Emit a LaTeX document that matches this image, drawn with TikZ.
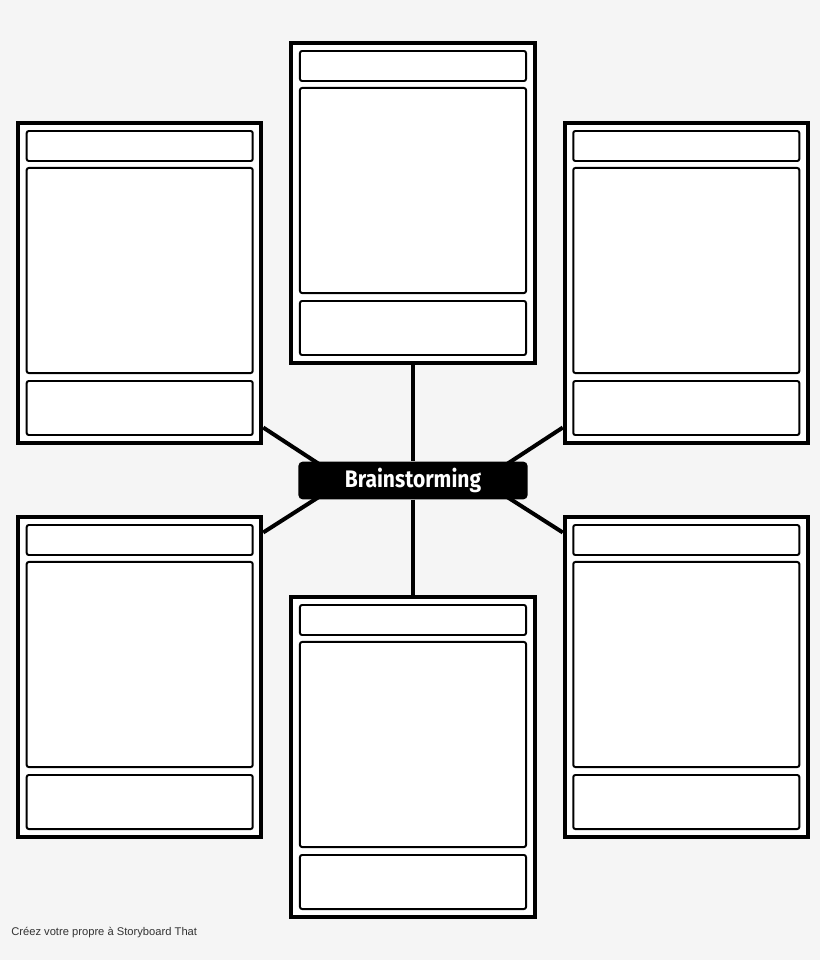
\documentclass[tikz,border=0pt]{standalone}
\usepackage{fontspec}
\usepackage{tikz}
\usetikzlibrary{positioning}
\usetikzlibrary{calc}
\newfontfamily\brainfont[FakeStretch=0.88]{Fira Sans}
\newfontfamily\creditfont{Liberation Sans}
\definecolor{bgcolor}{RGB}{245,245,245}
\definecolor{credit}{RGB}{51,51,51}

\begin{document}
\begin{tikzpicture}[x=0.025cm, y=-0.025cm,
    card/.style={draw, line width=2.85pt, fill=white, inner sep=0pt, minimum width=6.075cm, minimum height=7.975cm},
    panel/.style={draw, line width=1.4pt, fill=white, rounded corners=1.5pt, inner sep=0pt, minimum width=5.65cm},
    head/.style={panel, minimum height=0.75cm},
    body/.style={panel, minimum height=5.125cm},
    foot/.style={panel, minimum height=1.35cm},
    link/.style={line width=2.85pt}]
      \useasboundingbox (0,0) rectangle (820,960);
      \fill[bgcolor] (0,0) rectangle (820,960);
      % top row
      \node[card] (tl) at (139.7,283) {};
      \node[head] (tl1) at (139.7,146) {};
      \node[body] (tl2) at (139.7,270.5) {};
      \node[foot] (tl3) at (139.7,408) {};
      \node[card] (tc) at (413,203) {};
      \node[head] (tc1) at (413,66) {};
      \node[body] (tc2) at (413,190.5) {};
      \node[foot] (tc3) at (413,328) {};
      \node[card] (tr) at (686.3,283) {};
      \node[head] (tr1) at (686.3,146) {};
      \node[body] (tr2) at (686.3,270.5) {};
      \node[foot] (tr3) at (686.3,408) {};
      % bottom row
      \node[card] (bl) at (139.7,677) {};
      \node[head] (bl1) at (139.7,540) {};
      \node[body] (bl2) at (139.7,664.5) {};
      \node[foot] (bl3) at (139.7,802) {};
      \node[card] (bc) at (413,757) {};
      \node[head] (bc1) at (413,620) {};
      \node[body] (bc2) at (413,744.5) {};
      \node[foot] (bc3) at (413,882) {};
      \node[card] (br) at (686.3,677) {};
      \node[head] (br1) at (686.3,540) {};
      \node[body] (br2) at (686.3,664.5) {};
      \node[foot] (br3) at (686.3,802) {};
      % centre label
      \node[fill=black, rounded corners=0.1cm, inner sep=0pt, minimum width=5.725cm, minimum height=0.94cm,
            text=white, font=\brainfont\bfseries\fontsize{17}{20}\selectfont] (brain) at (413,480.5) {Brainstorming};
      \draw [link] (tc.south) -- (brain.north);
      \draw [link] (brain.south) -- (bc.north);
      \draw [link] ([yshift=0.425cm]tl.south east) -- ([xshift=0.65cm, yshift=-0.15cm]brain.north west);
      \draw [link] ([yshift=0.425cm]tr.south west) -- ([xshift=-0.65cm, yshift=-0.15cm]brain.north east);
      \draw [link] ([yshift=-0.425cm]bl.north east) -- ([xshift=0.65cm, yshift=0.15cm]brain.south west);
      \draw [link] ([yshift=-0.425cm]br.north west) -- ([xshift=-0.65cm, yshift=0.15cm]brain.south east);
      \node[anchor=base west, inner sep=0pt, text=credit, font=\creditfont\fontsize{7.95}{9.5}\selectfont] (credit) at (11,935.7) {Créez votre propre à Storyboard That};
\end{tikzpicture}
\end{document}
